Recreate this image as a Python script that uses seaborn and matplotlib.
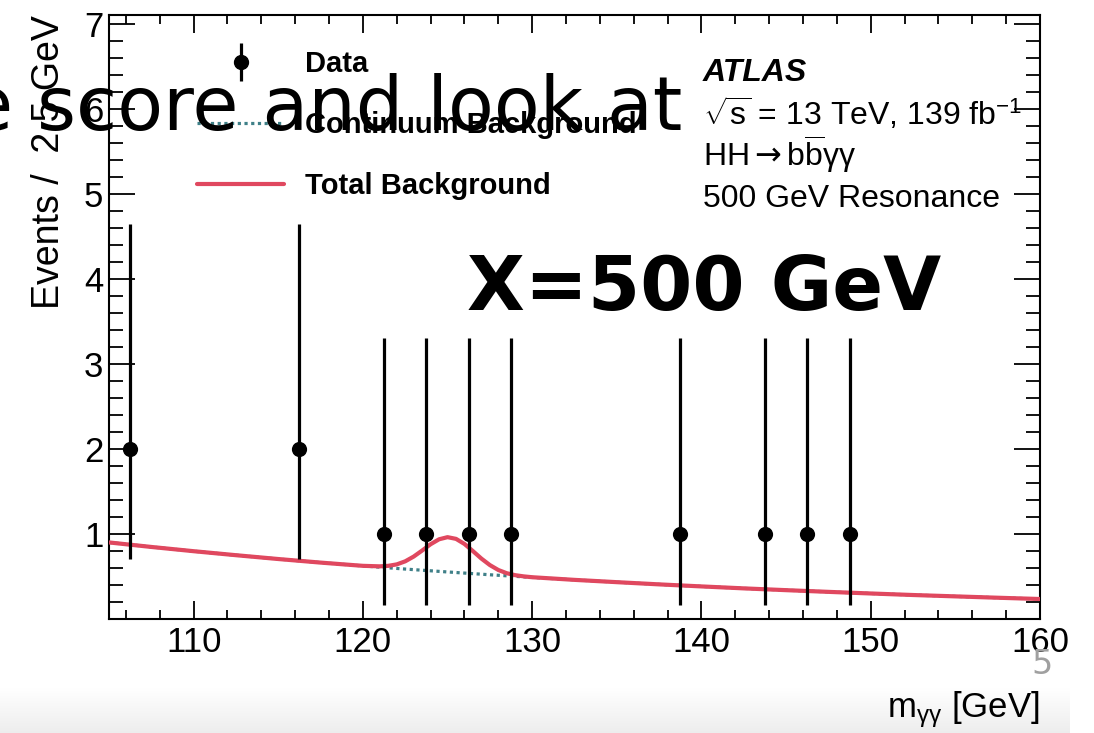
import numpy as np
import pandas as pd
import matplotlib
matplotlib.use("Agg")
import matplotlib.pyplot as plt
import seaborn as sns
from matplotlib.ticker import MultipleLocator
from matplotlib.container import ErrorbarContainer
from matplotlib.legend_handler import HandlerErrorbar

# Observed events per 2.5 GeV bin (bin centres), with Poisson 68% intervals
data_mass = [106.25, 116.25, 121.25, 123.75, 126.25, 128.75, 138.75, 143.75, 146.25, 148.75]
data_events = [2, 2, 1, 1, 1, 1, 1, 1, 1, 1]
data_err_low = [1.29, 1.29, 0.83, 0.83, 0.83, 0.83, 0.83, 0.83, 0.83, 0.83]
data_err_high = [2.64, 2.64, 2.30, 2.30, 2.30, 2.30, 2.30, 2.30, 2.30, 2.30]

# Continuum background fit
cont_mass = [105, 107.5, 110, 112.5, 115, 117.5, 120, 122.5, 125, 127.5, 130, 132.5,
             135, 137.5, 140, 142.5, 145, 147.5, 150, 152.5, 155, 157.5, 160]
cont_events = [0.900, 0.847, 0.797, 0.750, 0.705, 0.663, 0.624, 0.587, 0.553, 0.520, 0.489, 0.460,
               0.433, 0.407, 0.383, 0.360, 0.339, 0.319, 0.300, 0.282, 0.266, 0.250, 0.235]

# Total background (continuum + single Higgs)
total_mass = [105, 107.5, 110, 112.5, 115, 117.5, 119, 120, 121, 121.5,
              122, 122.5, 123, 123.5, 124, 124.5, 125, 125.5, 126, 126.5,
              127, 127.5, 128, 128.5, 129, 129.5, 130,
              132.5, 135, 137.5, 140, 142.5, 145, 147.5, 150, 152.5, 155, 157.5, 160]
total_events = [0.900, 0.847, 0.797, 0.750, 0.705, 0.663, 0.640, 0.625, 0.619, 0.625,
                0.642, 0.678, 0.734, 0.805, 0.879, 0.937, 0.962, 0.942, 0.882, 0.798,
                0.710, 0.634, 0.576, 0.538, 0.515, 0.501, 0.491,
                0.460, 0.433, 0.407, 0.383, 0.360, 0.339, 0.319, 0.300, 0.282, 0.266, 0.250, 0.235]

x_ticks = [110, 120, 130, 140, 150, 160]
y_ticks = [1, 2, 3, 4, 5, 6, 7]

sns.set_style("ticks")
plt.rcParams["font.family"] = ["Liberation Sans", "DejaVu Sans"]
plt.rcParams["mathtext.fontset"] = "custom"
plt.rcParams["mathtext.rm"] = "Liberation Sans"
plt.rcParams["mathtext.it"] = "Liberation Sans:italic"
plt.rcParams["mathtext.bf"] = "Liberation Sans:bold"
plt.rcParams["mathtext.sf"] = "DejaVu Sans"
for key in ["text.color", "axes.labelcolor", "xtick.color", "ytick.color",
            "xtick.labelcolor", "ytick.labelcolor", "axes.edgecolor"]:
    plt.rcParams[key] = "black"

RED = "#e0485f"
TEAL = "#3f8088"

W, H = 1094, 733
fig = plt.figure(figsize=(W / 100, H / 100), dpi=100)
fig.patch.set_facecolor("white")

# faint grey band along the bottom of the slide
bg = fig.add_axes([0, 0, 1070 / W, 45 / H], zorder=-5)
grad = np.linspace(1.0, 0.93, 64).reshape(-1, 1)
bg.imshow(np.dstack([grad, grad, grad]), aspect="auto", extent=[0, 1, 0, 1])
bg.axis("off")

ax = fig.add_axes([109 / W, 1 - 619 / H, (1040 - 109) / W, (619 - 15) / H])
ax.set_facecolor("white")

cont_df = pd.DataFrame({"mass": cont_mass, "events": cont_events})
total_df = pd.DataFrame({"mass": total_mass, "events": total_events})
data_df = pd.DataFrame({"mass": data_mass, "events": data_events})

sns.lineplot(data=cont_df, x="mass", y="events", ax=ax, color=TEAL, lw=2.3,
             linestyle=(0, (1.0, 1.1)), legend=False, zorder=2)
sns.lineplot(data=total_df, x="mass", y="events", ax=ax, color=RED, lw=3.0,
             legend=False, zorder=3)
ax.errorbar(data_mass, data_events, yerr=[data_err_low, data_err_high], fmt="none",
            ecolor="black", elinewidth=2.3, capsize=0, zorder=4)
sns.scatterplot(data=data_df, x="mass", y="events", ax=ax, s=120, color="black",
                edgecolor="black", linewidth=0, legend=False, zorder=5)

ax.set_xlim(105, 160)
ax.set_ylim(0, 7.1)
ax.set_xticks(x_ticks)
ax.set_yticks(y_ticks)
ax.xaxis.set_minor_locator(MultipleLocator(2))
ax.yaxis.set_minor_locator(MultipleLocator(0.2))
ax.tick_params(which="both", direction="in", top=True, right=True, color="black", width=1.3)
ax.tick_params(axis="x", which="major", length=13, labelsize=25, pad=5)
ax.tick_params(axis="x", which="minor", length=6.5)
ax.tick_params(axis="y", which="major", length=19, labelsize=25, pad=4)
ax.tick_params(axis="y", which="minor", length=10)
for s in ax.spines.values():
    s.set_visible(True)
    s.set_linewidth(1.5)
    s.set_color("black")

ax.set_xlabel(r"m$_{\mathregular{\gamma\gamma}}$ [GeV]", fontsize=25, loc="right", labelpad=22)
ax.set_ylabel("Events /  2.5 GeV", fontsize=27, loc="top", labelpad=12)

# legend
data_proxy = ax.errorbar([np.nan], [np.nan], yerr=[[1], [1]], fmt="o", color="black",
                         ms=10, elinewidth=2.3, capsize=0)
cont_proxy = plt.Line2D([], [], color=TEAL, lw=2.3, linestyle=(0, (1.0, 1.1)))
total_proxy = plt.Line2D([], [], color=RED, lw=3.0)
ax.legend([data_proxy, cont_proxy, total_proxy],
          ["Data", "Continuum Background", "Total Background"],
          handler_map={ErrorbarContainer: HandlerErrorbar(yerr_size=0.65)},
          loc="upper left", bbox_to_anchor=(0.0945, 0.942), frameon=False,
          prop={"family": "Liberation Sans", "weight": "bold", "size": 21},
          handlelength=3.0, handletextpad=0.7, labelspacing=1.13,
          borderpad=0, borderaxespad=0)

# ATLAS label block
tx = 0.638
ax.text(tx, 0.891, "ATLAS", transform=ax.transAxes, fontsize=23, fontweight="bold",
        fontstyle="italic", va="baseline", ha="left")
ax.text(tx, 0.818, r"$\sqrt{\mathregular{s}}$ = 13 TeV, 139 fb$^{\mathregular{-1}}$",
        transform=ax.transAxes, fontsize=23, va="baseline", ha="left")
ax.text(tx, 0.750, r"HH$\mathsf{\rightarrow}$b$\mathregular{\overline{b}}$γγ",
        transform=ax.transAxes, fontsize=23, va="baseline", ha="left")
ax.text(tx, 0.682, "500 GeV Resonance", transform=ax.transAxes, fontsize=23,
        va="baseline", ha="left")

# slide overlay text
fig.text(682 / W, 1 - 130 / H, "e score and look at", fontsize=54, family="DejaVu Sans",
         ha="right", va="baseline", zorder=20)
fig.text(467 / W, 1 - 310 / H, "X=500 GeV", fontsize=54, family="DejaVu Sans",
         fontweight="bold", ha="left", va="baseline", zorder=20)
fig.text(1042 / W, 1 - 665 / H, "5", fontsize=24, family="DejaVu Sans", color="#a0a0a0",
         ha="center", va="center", zorder=20)

fig.savefig("out.png", dpi=100, facecolor="white")
